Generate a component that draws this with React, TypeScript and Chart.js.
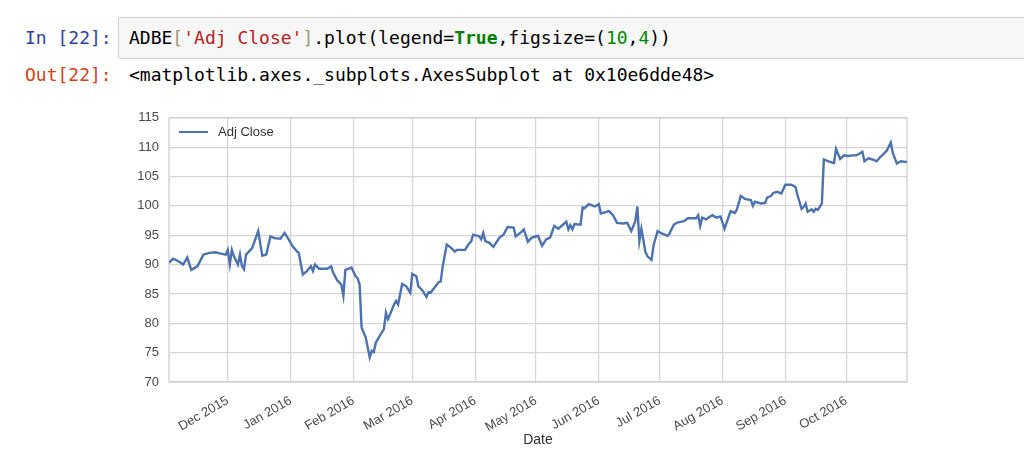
import React, { useEffect, useRef } from "react";
import { Chart, registerables } from "chart.js";

Chart.register(...registerables);

// ---- data ----
const dates: string[] = [
  "2015-11-02", "2015-11-04", "2015-11-06", "2015-11-09", "2015-11-11", "2015-11-13",
  "2015-11-16", "2015-11-19", "2015-11-22", "2015-11-25", "2015-11-27", "2015-11-30",
  "2015-12-01", "2015-12-02", "2015-12-03", "2015-12-04", "2015-12-06", "2015-12-07",
  "2015-12-08", "2015-12-09", "2015-12-10", "2015-12-13", "2015-12-16", "2015-12-18",
  "2015-12-20", "2015-12-22", "2015-12-24", "2015-12-27", "2015-12-29", "2015-12-31",
  "2016-01-02", "2016-01-04", "2016-01-05", "2016-01-07", "2016-01-09", "2016-01-11",
  "2016-01-12", "2016-01-13", "2016-01-15", "2016-01-19", "2016-01-21", "2016-01-22",
  "2016-01-24", "2016-01-26", "2016-01-27", "2016-01-28", "2016-01-31", "2016-02-02",
  "2016-02-03", "2016-02-04", "2016-02-05", "2016-02-07", "2016-02-08", "2016-02-09",
  "2016-02-10", "2016-02-11", "2016-02-12", "2016-02-14", "2016-02-16", "2016-02-17",
  "2016-02-18", "2016-02-19", "2016-02-21", "2016-02-22", "2016-02-23", "2016-02-25",
  "2016-02-27", "2016-02-29", "2016-03-01", "2016-03-03", "2016-03-04", "2016-03-06",
  "2016-03-08", "2016-03-09", "2016-03-10", "2016-03-12", "2016-03-14", "2016-03-15",
  "2016-03-16", "2016-03-18", "2016-03-20", "2016-03-22", "2016-03-23", "2016-03-27",
  "2016-03-29", "2016-03-30", "2016-03-31", "2016-04-03", "2016-04-04", "2016-04-05",
  "2016-04-06", "2016-04-08", "2016-04-10", "2016-04-13", "2016-04-15", "2016-04-17",
  "2016-04-20", "2016-04-21", "2016-04-24", "2016-04-25", "2016-04-27", "2016-04-29",
  "2016-04-30", "2016-05-02", "2016-05-04", "2016-05-06", "2016-05-08", "2016-05-10",
  "2016-05-12", "2016-05-14", "2016-05-16", "2016-05-17", "2016-05-18", "2016-05-19",
  "2016-05-20", "2016-05-23", "2016-05-24", "2016-05-25", "2016-05-27", "2016-05-30",
  "2016-06-01", "2016-06-02", "2016-06-04", "2016-06-06", "2016-06-08", "2016-06-10",
  "2016-06-13", "2016-06-15", "2016-06-17", "2016-06-19", "2016-06-20", "2016-06-21",
  "2016-06-22", "2016-06-23", "2016-06-24", "2016-06-25", "2016-06-27", "2016-06-28",
  "2016-06-30", "2016-07-02", "2016-07-05", "2016-07-06", "2016-07-08", "2016-07-10",
  "2016-07-13", "2016-07-15", "2016-07-19", "2016-07-20", "2016-07-21", "2016-07-22",
  "2016-07-24", "2016-07-25", "2016-07-27", "2016-07-29", "2016-07-31", "2016-08-02",
  "2016-08-05", "2016-08-07", "2016-08-08", "2016-08-10", "2016-08-12", "2016-08-15",
  "2016-08-16", "2016-08-17", "2016-08-20", "2016-08-22", "2016-08-23", "2016-08-25",
  "2016-08-26", "2016-08-28", "2016-08-30", "2016-09-01", "2016-09-04", "2016-09-06",
  "2016-09-07", "2016-09-09", "2016-09-10", "2016-09-11", "2016-09-12", "2016-09-14",
  "2016-09-15", "2016-09-16", "2016-09-17", "2016-09-19", "2016-09-20", "2016-09-23",
  "2016-09-25", "2016-09-26", "2016-09-28", "2016-09-30", "2016-10-02", "2016-10-04",
  "2016-10-06", "2016-10-07", "2016-10-09", "2016-10-10", "2016-10-12", "2016-10-14",
  "2016-10-16", "2016-10-18", "2016-10-19", "2016-10-21", "2016-10-23", "2016-10-24",
  "2016-10-26", "2016-10-28", "2016-10-30", "2016-10-31",
];

const adjClose: number[] = [
  90.3, 91.0, 90.7, 90.0, 91.2, 89.1,
  89.7, 91.7, 92.0, 92.1, 91.9, 91.7,
  92.5, 90.0, 92.5, 91.4, 90.0, 91.7,
  89.7, 89.2, 91.7, 92.8, 95.7, 91.5,
  91.7, 94.8, 94.5, 94.4, 95.4, 94.3,
  93.1, 92.3, 92.0, 88.3, 88.9, 89.7,
  88.9, 90.0, 89.3, 89.3, 89.7, 88.6,
  87.3, 86.6, 84.7, 89.1, 89.5, 88.0,
  87.7, 86.6, 79.3, 77.6, 75.9, 74.2,
  75.3, 75.1, 76.7, 77.9, 79.0, 81.8,
  80.7, 81.5, 83.2, 83.8, 83.2, 86.7,
  86.3, 85.2, 88.4, 88.0, 86.3, 85.6,
  84.5, 85.3, 85.2, 86.1, 87.0, 87.1,
  89.7, 93.4, 92.9, 92.2, 92.5, 92.5,
  93.6, 93.9, 95.1, 94.8, 94.3, 95.4,
  94.0, 93.7, 93.0, 94.6, 95.1, 96.4,
  96.3, 94.8, 95.6, 96.0, 93.9, 94.6,
  94.7, 94.9, 93.2, 94.3, 94.6, 96.6,
  96.1, 96.7, 97.3, 96.0, 96.7, 96.0,
  96.9, 96.8, 99.7, 99.6, 100.3, 99.9,
  100.3, 98.7, 98.9, 99.1, 98.4, 97.1,
  97.0, 97.1, 95.7, 97.4, 99.9, 94.0,
  96.1, 94.1, 92.1, 91.4, 90.8, 93.3,
  95.7, 95.3, 94.9, 95.4, 96.8, 97.2,
  97.4, 97.9, 97.9, 98.4, 96.6, 98.0,
  97.7, 98.0, 98.4, 98.0, 98.2, 96.1,
  99.1, 98.8, 99.3, 101.7, 101.2, 101.0,
  100.0, 100.7, 100.4, 100.5, 101.4, 101.7,
  102.2, 102.4, 102.1, 103.6, 103.6, 103.2,
  101.8, 99.5, 99.8, 100.4, 99.0, 99.4,
  99.0, 99.5, 99.3, 100.4, 107.9, 107.5,
  107.3, 109.7, 108.0, 108.6, 108.5, 108.6,
  108.6, 108.8, 109.2, 107.6, 108.1, 107.9,
  107.6, 108.4, 108.7, 109.4, 110.8, 109.0,
  107.2, 107.6, 107.5, 107.5,
];

const monthTickDates: string[] = [
  "2015-12-01", "2016-01-01", "2016-02-01", "2016-03-01", "2016-04-01", "2016-05-01",
  "2016-06-01", "2016-07-01", "2016-08-01", "2016-09-01", "2016-10-01",
];
const monthTickLabels: string[] = [
  "Dec 2015", "Jan 2016", "Feb 2016", "Mar 2016", "Apr 2016", "May 2016",
  "Jun 2016", "Jul 2016", "Aug 2016", "Sep 2016", "Oct 2016",
];
const yTickValues: number[] = [70, 75, 80, 85, 90, 95, 100, 105, 110, 115];

const seriesLabel = "Adj Close";
const xAxisTitle = "Date";

const toDay = (s: string): number => {
  const [y, m, d] = s.split("-").map(Number);
  return Date.UTC(y, m - 1, d) / 86400000;
};

const LINE_COLOR = "#4C72B0";
const GRID_COLOR = "#d6d6d6";
const SANS = "'Liberation Sans', Arial, Helvetica, sans-serif";
const MONO = "'DejaVu Sans Mono', Menlo, monospace";

const framePlugin = {
  id: "frame",
  beforeDatasetsDraw(chart: any) {
    const { ctx, chartArea: a } = chart;
    ctx.save();
    ctx.strokeStyle = "#cccccc";
    ctx.lineWidth = 1.2;
    ctx.strokeRect(a.left, a.top, a.right - a.left, a.bottom - a.top);
    ctx.restore();
  },
};

function ChartCanvas() {
  const ref = useRef<HTMLCanvasElement | null>(null);
  useEffect(() => {
    if (!ref.current) return;
    const points = dates.map((d, i) => ({ x: toDay(d), y: adjClose[i] }));
    const tickDays = monthTickDates.map(toDay);
    const chart = new Chart(ref.current, {
      type: "line",
      data: {
        datasets: [
          {
            label: seriesLabel,
            data: points,
            borderColor: LINE_COLOR,
            borderWidth: 2.4,
            pointRadius: 0,
            tension: 0,
            fill: false,
          },
        ],
      },
      options: {
        animation: false,
        responsive: false,
        maintainAspectRatio: false,
        layout: { padding: { left: 0, right: 33, top: 15, bottom: 0 } },
        plugins: { legend: { display: false }, tooltip: { enabled: false } },
        scales: {
          x: {
            type: "linear",
            min: toDay(dates[0]),
            max: toDay(dates[dates.length - 1]),
            afterBuildTicks: (s: any) => {
              s.ticks = tickDays.map((v) => ({ value: v }));
            },
            afterFit: (s: any) => {
              s.height = 88;
            },
            grid: { color: GRID_COLOR, lineWidth: 1.2, drawTicks: false },
            border: { display: false },
            ticks: {
              autoSkip: false,
              minRotation: 30,
              maxRotation: 30,
              padding: 11,
              color: "#4a4a4a",
              font: { family: SANS, size: 13 },
              callback: (v: any) => {
                const i = tickDays.indexOf(Number(v));
                return i >= 0 ? monthTickLabels[i] : "";
              },
            },
            title: {
              display: true,
              text: xAxisTitle,
              color: "#333333",
              font: { family: SANS, size: 14 },
              padding: { top: 0, bottom: 21 },
            },
          },
          y: {
            type: "linear",
            min: 70,
            max: 115,
            afterBuildTicks: (s: any) => {
              s.ticks = yTickValues.map((v) => ({ value: v }));
            },
            afterFit: (s: any) => {
              s.width = 69;
            },
            grid: { color: GRID_COLOR, lineWidth: 1.2, drawTicks: false },
            border: { display: false },
            ticks: {
              padding: 10,
              color: "#4a4a4a",
              font: { family: SANS, size: 13 },
              callback: (v: any) => String(v),
            },
          },
        },
      },
      plugins: [framePlugin],
    } as any);
    return () => chart.destroy();
  }, []);
  return (
    <canvas
      ref={ref}
      width={840}
      height={370}
      style={{ position: "absolute", left: 100, top: 100, width: 840, height: 370 }}
    />
  );
}

export default function App() {
  const monoText: React.CSSProperties = {
    fontFamily: MONO,
    fontSize: 18,
    lineHeight: "22px",
    whiteSpace: "pre",
    position: "absolute",
  };
  return (
    <div
      style={{
        position: "fixed",
        left: 0,
        top: 0,
        width: 1024,
        height: 470,
        background: "#ffffff",
        overflow: "hidden",
      }}
    >
      <div style={{ ...monoText, left: 25, top: 27, color: "#303F9F" }}>In [22]:</div>
      <div
        style={{
          position: "absolute",
          left: 118,
          top: 17,
          width: 940,
          height: 40,
          background: "#f7f7f7",
          border: "1px solid #cfcfcf",
          borderRadius: 2,
        }}
      />
      <div style={{ ...monoText, left: 129, top: 27, color: "#000000" }}>
        <span>ADBE</span>
        <span style={{ color: "#999977" }}>[</span>
        <span style={{ color: "#BA2121" }}>'Adj Close'</span>
        <span style={{ color: "#999977" }}>]</span>
        <span>.plot(legend=</span>
        <span style={{ color: "#008000", fontWeight: "bold" }}>True</span>
        <span>,figsize=(</span>
        <span style={{ color: "#008800" }}>10</span>
        <span>,</span>
        <span style={{ color: "#008800" }}>4</span>
        <span>))</span>
      </div>
      <div style={{ ...monoText, left: 25, top: 64, color: "#D84315" }}>Out[22]:</div>
      <div style={{ ...monoText, left: 129, top: 64, color: "#000000" }}>
        {"<matplotlib.axes._subplots.AxesSubplot at 0x10e6dde48>"}
      </div>
      <ChartCanvas />
      <div
        style={{
          position: "absolute",
          left: 179,
          top: 131,
          width: 29,
          height: 2.4,
          background: LINE_COLOR,
        }}
      />
      <div
        style={{
          position: "absolute",
          left: 218,
          top: 124,
          fontFamily: SANS,
          fontSize: 13,
          lineHeight: "16px",
          color: "#333333",
          whiteSpace: "pre",
        }}
      >
        {seriesLabel}
      </div>
    </div>
  );
}
